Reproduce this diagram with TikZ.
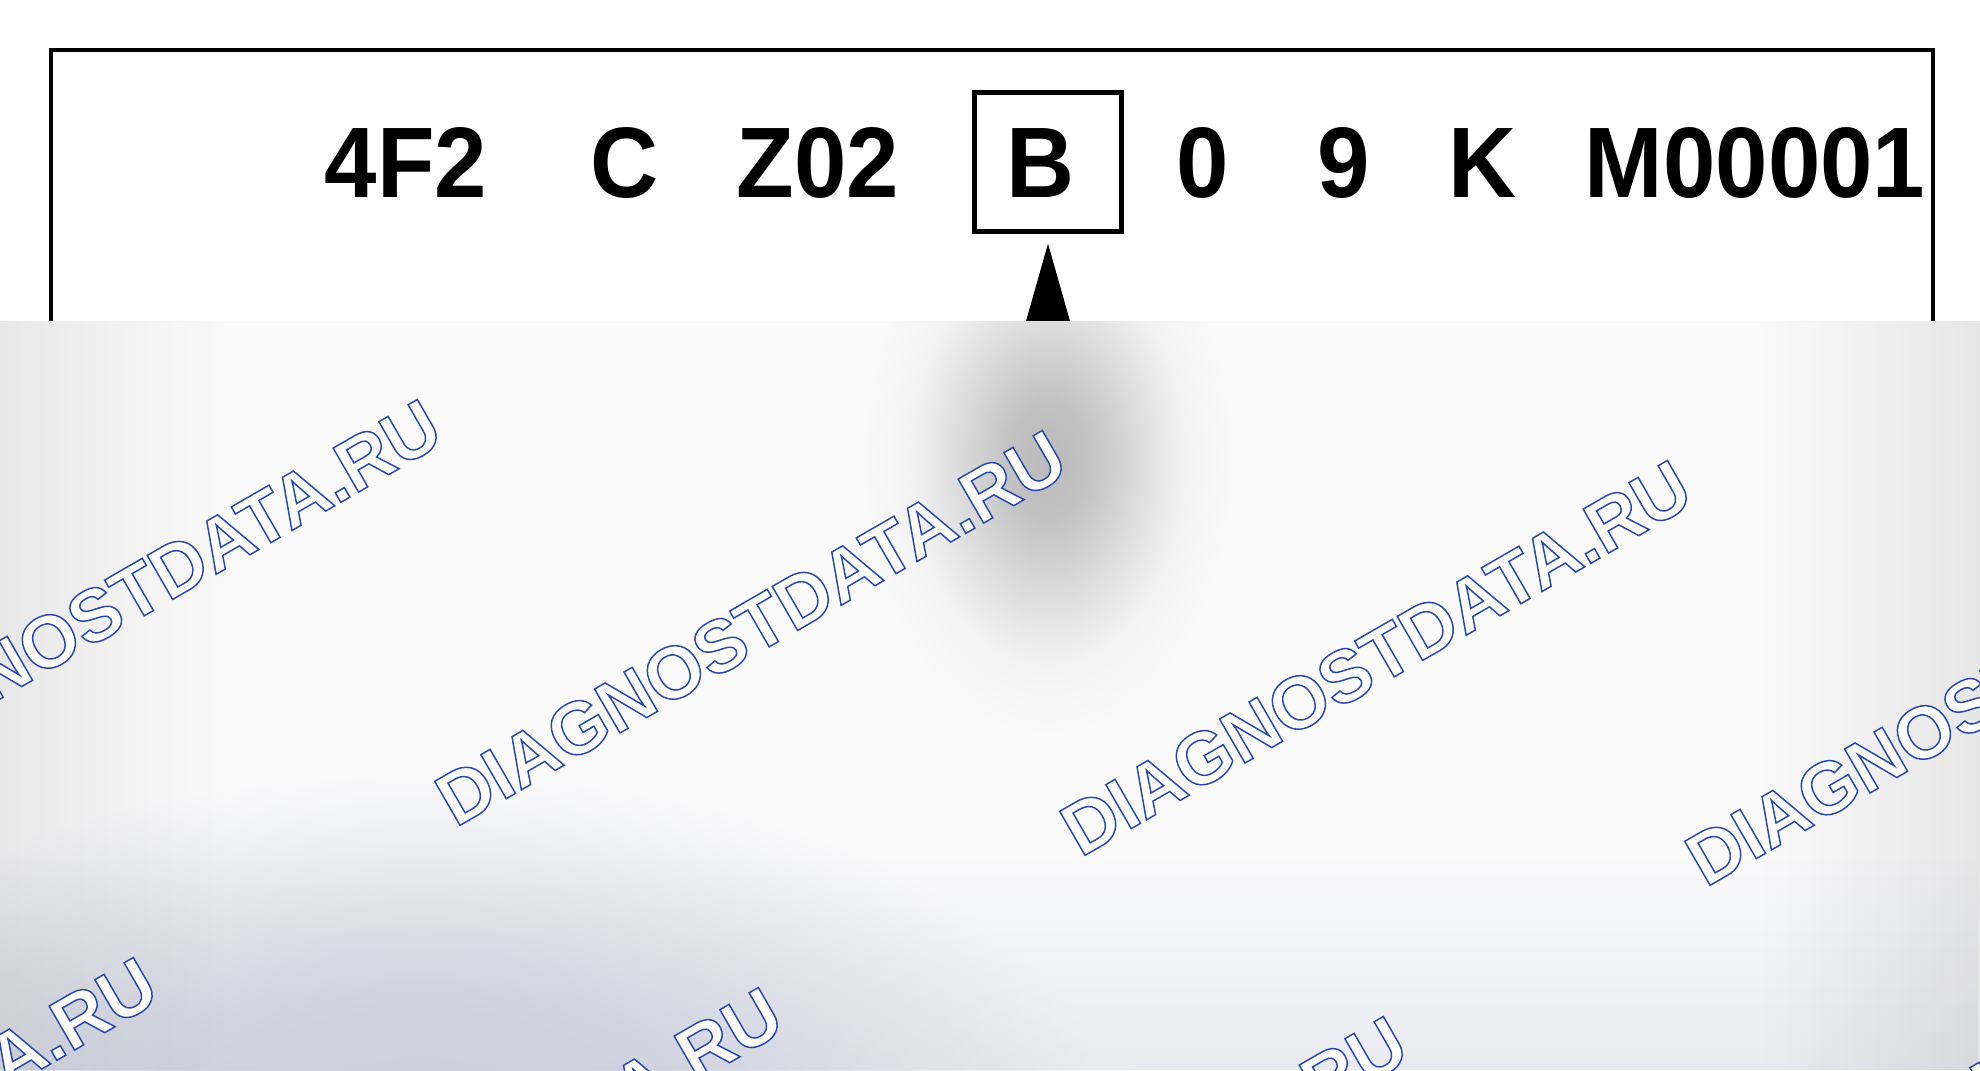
\documentclass[tikz,border=0pt]{standalone}
\usepackage{fontspec}
\setmainfont{Liberation Sans}
\usepackage{graphicx}
\usetikzlibrary{calc,fadings}
\definecolor{ovbase}{RGB}{250,250,251}
\definecolor{wmblue}{RGB}{38,72,172}
\definecolor{bluegray}{RGB}{204,208,221}
\pgfdeclareradialshading{blob}{\pgfpoint{0bp}{0bp}}{color(0bp)=(black!27); color(5bp)=(black!24); color(11bp)=(black!14); color(17bp)=(black!5); color(23bp)=(ovbase); color(25bp)=(ovbase); color(50bp)=(ovbase)}
\pgfdeclareradialshading{blueblob}{\pgfpoint{0bp}{0bp}}{color(0bp)=(bluegray); color(8bp)=(bluegray!90!ovbase); color(17bp)=(bluegray!40!ovbase); color(24bp)=(ovbase); color(25bp)=(ovbase); color(50bp)=(ovbase)}
\tikzfading[name=fadetoright, left color=transparent!0, right color=transparent!100]
\tikzfading[name=fadetoleft, left color=transparent!100, right color=transparent!0]
\tikzfading[name=fadetotop, top color=transparent!100, bottom color=transparent!0]
\newcommand\wmtext{\color{white}\special{pdf:literal direct 2 Tr 0.42 w 0.149 0.282 0.675 RG}DIAGNOSTDATA.RU\special{pdf:literal direct 0 Tr}}
\begin{document}
\begin{tikzpicture}[x=0.01cm,y=-0.01cm,
  codetxt/.style={font=\fontsize{28.5}{30}\selectfont\bfseries, inner sep=0pt, anchor=base},
  frameline/.style={line width=1.15pt, black},
  wmark/.style={font=\fontsize{21}{23}\selectfont\bfseries, rotate=30, inner sep=0pt}]
\useasboundingbox (0,0) rectangle (1980,1070);
\fill[white] (0,0) rectangle (1980,1070);
% frame
\coordinate (fl) at (51,330);
\coordinate (ftl) at (51,50);
\coordinate (ftr) at (1933,50);
\coordinate (fr) at (1933,330);
\draw[frameline] (fl) -- (ftl) -- (ftr) -- (fr);
% code
\node[codetxt] (t1) at (406,197) {\scalebox{0.94}[1]{4F2}};
\node[codetxt] (t2) at (625,197) {\scalebox{0.94}[1]{C}};
\node[codetxt] (t3) at (818,197) {\scalebox{0.94}[1]{Z02}};
\node[draw, line width=1.2pt, minimum width=1.47cm, minimum height=1.39cm, inner sep=0pt] (bbox) at (1048,162) {};
\node[codetxt] (t4) at (1040,197) {\scalebox{0.94}[1]{B}};
\node[codetxt] (t5) at (1203,197) {\scalebox{0.94}[1]{0}};
\node[codetxt] (t6) at (1344,197) {\scalebox{0.94}[1]{9}};
\node[codetxt] (t7) at (1482,197) {\scalebox{0.94}[1]{K}};
\node[codetxt] (t8) at (1755,197) {\scalebox{0.94}[1]{M00001}};
% arrow
\coordinate (tip) at ($(bbox.south)+(0,10)$);
\fill[black] (tip) -- ($(tip)+(-27,95)$) -- ($(tip)+(27,95)$) -- cycle;
% overlay
\begin{scope}
\clip (0,321) rectangle (1980,1070);
\fill[ovbase] (0,321) rectangle (1980,1070);
\begin{scope}[transform canvas={shift={(420,1120)}, xscale=2}]
\shade[shading=blueblob] (0,0) circle [radius=360];
\end{scope}
\begin{scope}[transform canvas={shift={(1048,460)}, xscale=0.67}]
\shade[shading=blob] (0,0) circle [radius=300];
\end{scope}
\fill[bluegray, opacity=0.35, path fading=fadetotop] (0,860) rectangle (1980,1070);
\fill[black, opacity=0.07, path fading=fadetoright] (0,321) rectangle (230,1070);
\fill[black, opacity=0.08, path fading=fadetoleft] (1760,321) rectangle (1980,1070);
% watermarks
\node[wmark] (w1) at (126,597) {\wmtext};
\node[wmark] (w2) at (751,628) {\wmtext};
\node[wmark] (w3) at (1376,658) {\wmtext};
\node[wmark] (w4) at (2001,688) {\wmtext};
\node[wmark] (w5) at (-158,1155) {\wmtext};
\node[wmark] (w6) at (467,1185) {\wmtext};
\node[wmark] (w7) at (1092,1214) {\wmtext};
\node[wmark] (w8) at (1717,1243) {\wmtext};
\end{scope}
\end{tikzpicture}
\end{document}
